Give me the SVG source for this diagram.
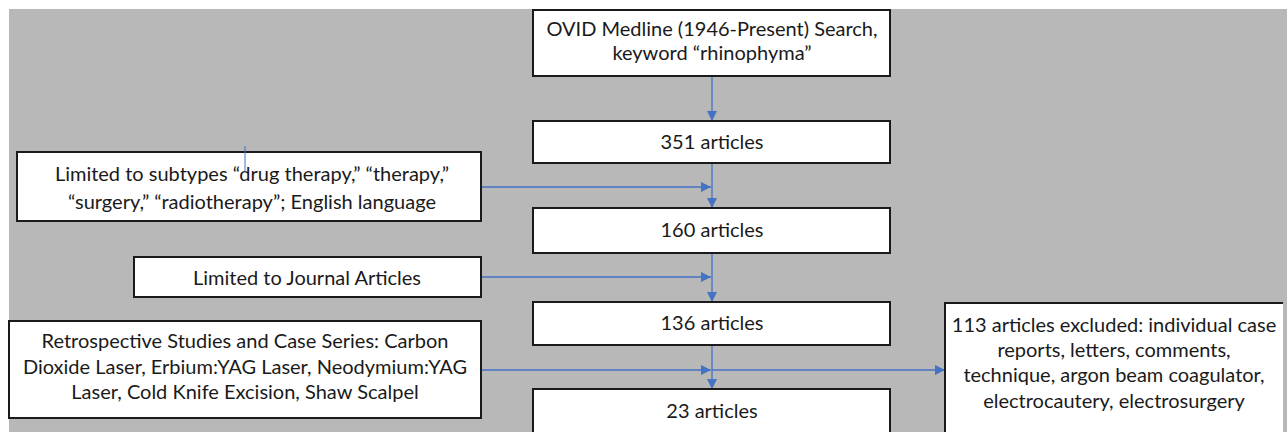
<svg xmlns="http://www.w3.org/2000/svg" width="1287" height="432" viewBox="0 0 1287 432">
<style>
.box{fill:#fff;stroke:#1a1a1a;stroke-width:2}
.t{font-family:Lato,"Open Sans","Liberation Sans",sans-serif;font-size:20px;fill:#1a1a1a;text-anchor:middle}
.c{stroke:#4472c4;stroke-width:1.3;fill:none}
</style>
<defs>
<marker id="ah" markerWidth="10" markerHeight="10" refX="10" refY="5" orient="auto" markerUnits="userSpaceOnUse">
<path d="M0,0 L10,5 L0,10 Z" fill="#4472c4"/>
</marker>
</defs>
<rect x="0" y="0" width="1287" height="432" fill="#fff"/>
<rect x="9" y="9" width="1278" height="423" fill="#b7b8b7"/>
<g id="connectors">
<line class="c" x1="712" y1="77" x2="712" y2="121" marker-end="url(#ah)"/>
<line class="c" x1="712" y1="163" x2="712" y2="208" marker-end="url(#ah)"/>
<line class="c" x1="481" y1="187" x2="711" y2="187" marker-end="url(#ah)"/>
<line class="c" x1="712" y1="253" x2="712" y2="302" marker-end="url(#ah)"/>
<line class="c" x1="481" y1="277" x2="711" y2="277" marker-end="url(#ah)"/>
<line class="c" x1="712" y1="345" x2="712" y2="389" marker-end="url(#ah)"/>
<line class="c" x1="481" y1="370" x2="711" y2="370" marker-end="url(#ah)"/>
<line class="c" x1="712" y1="370" x2="945" y2="370" marker-end="url(#ah)"/>
</g>
<g id="n1"><rect class="box" x="533" y="10" width="357" height="66"/>
<text class="t" x="712" y="36">OVID Medline (1946-Present) Search,</text>
<text class="t" x="712" y="60">keyword “rhinophyma”</text></g>
<g id="n2"><rect class="box" x="533" y="121" width="357" height="42"/>
<text class="t" x="712" y="149">351 articles</text></g>
<g id="n3"><rect class="box" x="17" y="152" width="464" height="69"/>
<text class="t" x="252" y="181">Limited to subtypes “drug therapy,” “therapy,”</text>
<text class="t" x="252" y="209">“surgery,” “radiotherapy”; English language</text>
<line x1="245" y1="146" x2="245" y2="172" stroke="#4472c4" stroke-width="1"/></g>
<g id="n4"><rect class="box" x="533" y="208" width="357" height="45"/>
<text class="t" x="712" y="237">160 articles</text></g>
<g id="n5"><rect class="box" x="134" y="257" width="347" height="40"/>
<text class="t" x="307" y="285">Limited to Journal Articles</text></g>
<g id="n6"><rect class="box" x="533" y="302" width="357" height="43"/>
<text class="t" x="712" y="330">136 articles</text></g>
<g id="n7"><rect class="box" x="9" y="321" width="472" height="97"/>
<text class="t" x="245" y="348">Retrospective Studies and Case Series: Carbon</text>
<text class="t" x="245" y="374">Dioxide Laser, Erbium:YAG Laser, Neodymium:YAG</text>
<text class="t" x="245" y="399">Laser, Cold Knife Excision, Shaw Scalpel</text></g>
<g id="n8"><rect class="box" x="533" y="389" width="357" height="50"/>
<text class="t" x="712" y="418">23 articles</text></g>
<g id="n9"><rect x="945" y="303" width="338" height="135" fill="#fff"/>
<path d="M945,440 L945,303 L1283,303" stroke="#1a1a1a" stroke-width="2" fill="none"/>
<text class="t" x="1114" y="332">113 articles excluded: individual case</text>
<text class="t" x="1114" y="357">reports, letters, comments,</text>
<text class="t" x="1114" y="382">technique, argon beam coagulator,</text>
<text class="t" x="1114" y="408">electrocautery, electrosurgery</text></g>
</svg>
